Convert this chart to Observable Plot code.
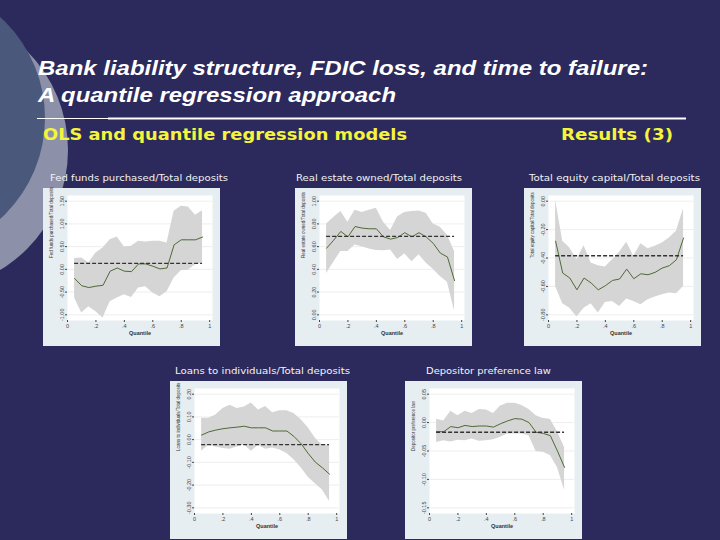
<!DOCTYPE html>
<html><head><meta charset="utf-8">
<script src="https://cdn.jsdelivr.net/npm/d3@7"></script>
<script src="https://cdn.jsdelivr.net/npm/@observablehq/plot@0.6"></script>
<style>
body{margin:0;background:#2c2a5c;}
#slide{position:relative;width:720px;height:540px;overflow:hidden;background:#2c2a5c;}
#bg{position:absolute;left:0;top:0;}
.panel{position:absolute;line-height:0;}
</style></head><body>
<div id="slide">
<svg id="bg" width="720" height="540">
  <circle cx="-72" cy="150" r="140" fill="#8d90a9"/>
  <circle cx="-91" cy="118" r="136" fill="#4a587b"/>
  <text x="38" y="75" font-family="'Liberation Sans',Arial,sans-serif" font-weight="bold" font-style="italic" font-size="21" fill="#ffffff" textLength="610" lengthAdjust="spacingAndGlyphs">Bank liability structure, FDIC loss, and time to failure:</text>
  <text x="38" y="102" font-family="'Liberation Sans',Arial,sans-serif" font-weight="bold" font-style="italic" font-size="21" fill="#ffffff" textLength="358" lengthAdjust="spacingAndGlyphs">A quantile regression approach</text>
  <line x1="37" x2="108" y1="118.5" y2="118.5" stroke="#ffffff" stroke-width="1"/>
  <line x1="108" x2="686" y1="118.5" y2="118.5" stroke="#ffffff" stroke-width="2"/>
  <text x="43" y="140" font-family="'DejaVu Sans',Verdana,sans-serif" font-weight="bold" font-size="16" fill="#f4f43c" textLength="364" lengthAdjust="spacingAndGlyphs">OLS and quantile regression models</text>
  <text x="561" y="140" font-family="'DejaVu Sans',Verdana,sans-serif" font-weight="bold" font-size="16" fill="#f4f43c" textLength="112" lengthAdjust="spacingAndGlyphs">Results (3)</text>
  <g id="ptitles" font-family="'DejaVu Sans',Verdana,sans-serif" font-size="8.5" fill="#f2f2f2"></g>
</svg>
</div>
<script>
const quantiles = [0.05,0.10,0.15,0.20,0.25,0.30,0.35,0.40,0.45,0.50,0.55,0.60,0.65,0.70,0.75,0.80,0.85,0.90,0.95];
const xTicks = [0,0.2,0.4,0.6,0.8,1];

// Fed funds purchased / Total deposits
const fedCoef = [-0.20,-0.36,-0.40,-0.37,-0.35,-0.04,0.03,-0.04,-0.05,0.12,0.12,0.07,0.01,0.03,0.54,0.65,0.65,0.65,0.71];
const fedHi   = [0.24,0.25,0.14,0.36,0.47,0.65,0.71,0.49,0.51,0.62,0.60,0.62,0.62,0.58,1.28,1.39,1.37,1.19,1.29];
const fedLo   = [-0.63,-0.96,-0.82,-0.93,-1.07,-0.71,-0.63,-0.56,-0.62,-0.41,-0.38,-0.52,-0.60,-0.49,-0.19,-0.03,-0.02,0.10,0.14];
const fedOls = 0.13;
const fedTicks = [-1.0,-0.5,0,0.5,1.0,1.5];

// Real estate owned / Total deposits
const reoCoef = [0.586,0.657,0.734,0.686,0.777,0.763,0.757,0.757,0.686,0.666,0.680,0.723,0.686,0.723,0.686,0.629,0.543,0.509,0.300];
const reoHi   = [0.800,0.857,0.909,0.814,0.920,0.900,0.920,0.937,0.814,0.743,0.863,0.900,0.909,0.914,0.894,0.800,0.771,0.700,0.557];
const reoLo   = [0.363,0.463,0.557,0.557,0.614,0.600,0.580,0.566,0.563,0.571,0.486,0.537,0.466,0.529,0.457,0.400,0.337,0.286,0.034];
const reoOls = 0.69;
const reoTicks = [0,0.2,0.4,0.6,0.8,1.0];

// Total equity capital / Total deposits
const eqCoef = [-0.282,-0.506,-0.541,-0.624,-0.541,-0.576,-0.624,-0.595,-0.558,-0.548,-0.478,-0.546,-0.511,-0.518,-0.501,-0.471,-0.454,-0.412,-0.259];
const eqHi   = [0.007,-0.282,-0.329,-0.412,-0.313,-0.435,-0.454,-0.464,-0.412,-0.360,-0.289,-0.388,-0.299,-0.334,-0.318,-0.294,-0.259,-0.212,-0.054];
const eqLo   = [-0.600,-0.722,-0.753,-0.816,-0.753,-0.722,-0.788,-0.713,-0.706,-0.741,-0.689,-0.706,-0.729,-0.694,-0.675,-0.659,-0.647,-0.652,-0.600];
const eqOls = -0.384;
const eqTicks = [-0.8,-0.6,-0.4,-0.2,0];

// Loans to individuals / Total deposits
const loanCoef = [0.020,0.034,0.042,0.048,0.052,0.055,0.059,0.052,0.052,0.052,0.038,0.038,0.038,0.014,-0.018,-0.061,-0.099,-0.124,-0.152];
const loanHi   = [0.094,0.094,0.108,0.137,0.151,0.137,0.144,0.161,0.130,0.146,0.118,0.127,0.127,0.115,0.087,0.052,0.006,-0.025,-0.025];
const loanLo   = [-0.051,-0.025,-0.032,-0.039,-0.042,-0.032,-0.022,-0.051,-0.025,-0.042,-0.037,-0.046,-0.061,-0.089,-0.124,-0.166,-0.194,-0.222,-0.272];
const loanOls = -0.022;
const loanTicks = [-0.3,-0.2,-0.1,0,0.1,0.2];

// Depositor preference law
const depCoef = [-0.016,-0.016,-0.007,-0.009,-0.005,-0.007,-0.006,-0.006,-0.008,-0.002,0.003,0.007,0.006,0.000,-0.017,-0.019,-0.023,-0.050,-0.079];
const depHi   = [0.006,0.003,0.020,0.012,0.020,0.016,0.023,0.022,0.016,0.029,0.034,0.034,0.030,0.023,0.012,0.007,0.006,-0.016,-0.044];
const depLo   = [-0.035,-0.032,-0.034,-0.031,-0.032,-0.029,-0.033,-0.032,-0.030,-0.026,-0.020,-0.020,-0.020,-0.023,-0.051,-0.052,-0.058,-0.079,-0.119];
const depOls = -0.017;
const depTicks = [-0.15,-0.10,-0.05,0,0.05];

const panelTitles = ["Fed funds purchased/Total deposits","Real estate owned/Total deposits","Total equity capital/Total deposits","Loans to individuals/Total deposits","Depositor preference law"];
const yTitles = ["Fed funds purchased/Total deposits","Real estate owned/Total deposits","Total equity capital/Total deposits","Loans to individuals/Total deposits","Depositor preference law"];

const panels = [
  {coef:fedCoef,hi:fedHi,lo:fedLo,ols:fedOls,ticks:fedTicks,left:43,top:188,tx:50,ty:181,tw:178},
  {coef:reoCoef,hi:reoHi,lo:reoLo,ols:reoOls,ticks:reoTicks,left:295,top:188,tx:296,ty:181,tw:166},
  {coef:eqCoef,hi:eqHi,lo:eqLo,ols:eqOls,ticks:eqTicks,left:524,top:188,tx:529,ty:181,tw:171},
  {coef:loanCoef,hi:loanHi,lo:loanLo,ols:loanOls,ticks:loanTicks,left:170,top:381,tx:175,ty:374,tw:175},
  {coef:depCoef,hi:depHi,lo:depLo,ols:depOls,ticks:depTicks,left:405,top:381,tx:426,ty:374,tw:125}
];

const slide = document.getElementById("slide");
const tg = d3.select("#ptitles");

panels.forEach((p,k)=>{
  tg.append("text").attr("x",p.tx).attr("y",p.ty).attr("textLength",p.tw)
    .attr("lengthAdjust","spacingAndGlyphs").text(panelTitles[k]);
  const data = quantiles.map((x,i)=>({q:x,c:p.coef[i],lo:p.lo[i],hi:p.hi[i]}));
  const t0 = d3.min(p.ticks), t1 = d3.max(p.ticks), pad=(t1-t0)*0.05;
  const chart = Plot.plot({
    width:177,height:158,marginLeft:24,marginRight:8,marginTop:7,marginBottom:26,
    style:{background:"#e7eef1",fontFamily:"'Liberation Sans',Arial,sans-serif",fontSize:"5.5px",color:"#444",overflow:"visible"},
    x:{domain:[0,1.02],label:null},
    y:{domain:[t0-pad,t1+pad],label:null},
    marks:[
      Plot.frame({fill:"white",stroke:"none"}),
      Plot.gridY(p.ticks,{stroke:"#e2e2e2",strokeOpacity:1,strokeWidth:0.6}),
      Plot.areaY(data,{x:"q",y1:"lo",y2:"hi",fill:"#d5d5d5"}),
      Plot.lineY(data,{x:"q",y:"c",stroke:"#4e6a36",strokeWidth:1}),
      Plot.ruleY([p.ols],{x1:0.05,x2:0.95,stroke:"#333333",strokeWidth:1.3,strokeDasharray:"4,2"}),
      Plot.axisY(p.ticks,{tickRotate:-90,tickSize:2,tickPadding:1.5,tickFormat:d=>d.toFixed(2),label:null}),
      Plot.axisX(xTicks,{tickSize:2,tickPadding:2,tickFormat:d=>d===0?"0":d===1?"1":d.toFixed(1).replace("0.","."),label:null}),
      Plot.text([yTitles[k]],{frameAnchor:"left",rotate:-90,dx:-16,fontSize:4.5,fill:"#333"}),
      Plot.text(["Quantile"],{frameAnchor:"bottom",dy:14,fontSize:5.5,fontWeight:"bold",fill:"#333"})
    ]
  });
  const div = document.createElement("div");
  div.className="panel";
  div.style.left=p.left+"px"; div.style.top=p.top+"px";
  div.appendChild(chart);
  slide.appendChild(div);
});
</script>
</body></html>
